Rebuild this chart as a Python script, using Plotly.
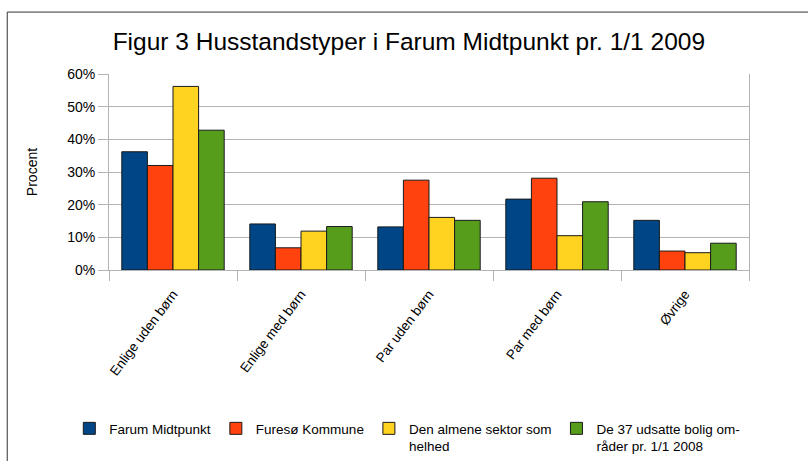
import plotly.graph_objects as go

categories = ["Enlige uden børn", "Enlige med børn", "Par uden børn", "Par med børn", "Øvrige"]

farum = [36.2, 14.1, 13.2, 21.7, 15.2]
furesoe = [32.0, 6.8, 27.5, 28.1, 5.8]
almene = [56.2, 11.9, 16.1, 10.5, 5.3]
udsatte = [42.8, 13.3, 15.2, 20.9, 8.2]

series_names = ["Farum Midtpunkt", "Furesø Kommune",
                "Den almene sektor som<br>helhed", "De 37 udsatte bolig om-<br>råder pr. 1/1 2008"]
colors = ["#004586", "#ff420e", "#ffd320", "#579d1c"]

fig = go.Figure()
for name, vals, col in zip(series_names, [farum, furesoe, almene, udsatte], colors):
    fig.add_trace(go.Bar(
        x=categories, y=vals, name=name,
        marker=dict(color=col, line=dict(color="#1a1a1a", width=1)),
    ))

font_family = "Liberation Sans, Arial, sans-serif"

fig.update_layout(
    width=808, height=461,
    margin=dict(l=109, r=59, t=74, b=191, autoexpand=False),
    paper_bgcolor="white", plot_bgcolor="white",
    font=dict(family=font_family, size=14, color="#000000"),
    title=dict(text="Figur 3 Husstandstyper i Farum Midtpunkt pr. 1/1 2009",
               x=0.506, xanchor="center", y=1 - 41 / 461, yanchor="middle",
               font=dict(size=24.5, family=font_family)),
    barmode="group", bargap=0.2, bargroupgap=0,
    showlegend=True,
    legend=dict(orientation="h", x=-0.062, xanchor="left", y=-0.73, yanchor="top",
                font=dict(size=13.5), valign="top", tracegroupgap=0,
                itemwidth=30),
    shapes=[dict(type="rect", xref="paper", yref="paper",
                 x0=-0.159, x1=1.12, y0=-1.1, y1=1.316,
                 line=dict(color="#333333", width=1))],
)

fig.update_xaxes(
    tickangle=-53, tickson="boundaries", ticks="outside", ticklen=10,
    tickcolor="#b3b3b3", showline=True, linecolor="#b3b3b3", linewidth=1,
    showgrid=False, tickfont=dict(size=13.5), automargin=False,
    ticklabelstandoff=10,
)
fig.update_yaxes(
    range=[0, 60], dtick=10, ticksuffix="%", showgrid=True, gridcolor="#b3b3b3",
    showline=True, linecolor="#b3b3b3", mirror=True, ticks="outside", ticklen=10,
    tickcolor="#b3b3b3", zeroline=False, automargin=False,
    title=dict(text="Procent", font=dict(size=14), standoff=26),
    tickfont=dict(size=14),
)

fig.write_html("out.html", config={"displayModeBar": False},
               post_script="document.body.style.margin='0';")
